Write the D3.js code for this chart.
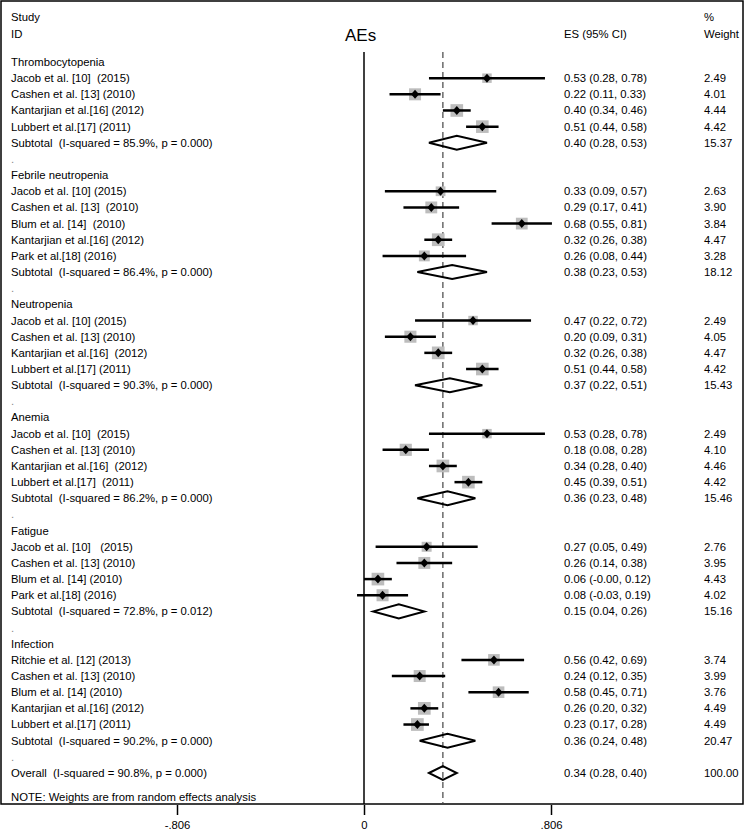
<!DOCTYPE html>
<html><head><meta charset="utf-8">
<script src="https://cdn.jsdelivr.net/npm/d3@7"></script>
<style>body{margin:0;background:#fff}text{font-family:"Liberation Sans",Arial,sans-serif;white-space:pre}</style>
</head><body><svg id="c" width="745" height="831"></svg>
<script>
const groups = ["Thrombocytopenia","Febrile neutropenia","Neutropenia","Anemia","Fatigue","Infection"];
const studies = [
 ["Jacob et al. [10]  (2015)","Cashen et al. [13] (2010)","Kantarjian et al.[16] (2012)","Lubbert et al.[17] (2011)"],
 ["Jacob et al. [10] (2015)","Cashen et al. [13]  (2010)","Blum et al. [14]  (2010)","Kantarjian et al.[16] (2012)","Park et al.[18] (2016)"],
 ["Jacob et al. [10] (2015)","Cashen et al. [13] (2010)","Kantarjian et al.[16]  (2012)","Lubbert et al.[17] (2011)"],
 ["Jacob et al. [10]  (2015)","Cashen et al. [13] (2010)","Kantarjian et al.[16]  (2012)","Lubbert et al.[17]  (2011)"],
 ["Jacob et al. [10]   (2015)","Cashen et al. [13] (2010)","Blum et al. [14] (2010)","Park et al.[18] (2016)"],
 ["Ritchie et al. [12] (2013)","Cashen et al. [13] (2010)","Blum et al. [14] (2010)","Kantarjian et al.[16] (2012)","Lubbert et al.[17] (2011)"]
];
const es = [[0.53,0.22,0.40,0.51],[0.33,0.29,0.68,0.32,0.26],[0.47,0.20,0.32,0.51],[0.53,0.18,0.34,0.45],[0.27,0.26,0.06,0.08],[0.56,0.24,0.58,0.26,0.23]];
const lo = [[0.28,0.11,0.34,0.44],[0.09,0.17,0.55,0.26,0.08],[0.22,0.09,0.26,0.44],[0.28,0.08,0.28,0.39],[0.05,0.14,-0.00,-0.03],[0.42,0.12,0.45,0.20,0.17]];
const hi = [[0.78,0.33,0.46,0.58],[0.57,0.41,0.81,0.38,0.44],[0.72,0.31,0.38,0.58],[0.78,0.28,0.40,0.51],[0.49,0.38,0.12,0.19],[0.69,0.35,0.71,0.32,0.28]];
const weights = [[2.49,4.01,4.44,4.42],[2.63,3.90,3.84,4.47,3.28],[2.49,4.05,4.47,4.42],[2.49,4.10,4.46,4.42],[2.76,3.95,4.43,4.02],[3.74,3.99,3.76,4.49,4.49]];
const subES = [0.40,0.38,0.37,0.36,0.15,0.36];
const subLo = [0.28,0.23,0.22,0.23,0.04,0.24];
const subHi = [0.53,0.53,0.51,0.48,0.26,0.48];
const subW = [15.37,18.12,15.43,15.46,15.16,20.47];
const subI2 = ["85.9","86.4","90.3","86.2","72.8","90.2"];
const subP = ["0.000","0.000","0.000","0.000","0.012","0.000"];
const overall = {es:0.34, lo:0.28, hi:0.40, w:100.00, i2:"90.8", p:"0.000"};
const tickVals = [-0.806, 0, 0.806];
const tickLabels = ["-.806","0",".806"];

const svg = d3.select("#c");
const x = d3.scaleLinear().domain([-0.806,0.806]).range([364-187,364+187]);
const rowY = d3.scaleLinear().domain([0,44]).range([62,773]);
const fmt = v => ((v<0||Object.is(v,-0))?"-":"") + Math.abs(v).toFixed(2);
const ciText = (e,l,h) => `${fmt(e)} (${fmt(l)}, ${fmt(h)})`;
const fs = 11.3;
const plotTop = 52, plotBottom = 804;

const rows = [];
let r = 0;
groups.forEach((g,gi)=>{
  rows.push({type:"head", label:g, r:r++});
  studies[gi].forEach((s,si)=>rows.push({type:"study", label:s, es:es[gi][si], lo:lo[gi][si], hi:hi[gi][si], w:weights[gi][si], r:r++}));
  rows.push({type:"sub", label:`Subtotal  (I-squared = ${subI2[gi]}%, p = ${subP[gi]})`, es:subES[gi], lo:subLo[gi], hi:subHi[gi], w:subW[gi], r:r++});
  rows.push({type:"dot", label:".", r:r++});
});
rows.push({type:"sub", label:`Overall  (I-squared = ${overall.i2}%, p = ${overall.p})`, es:overall.es, lo:overall.lo, hi:overall.hi, w:overall.w, r:r++});

svg.append("rect").attr("x",1).attr("y",1).attr("width",742).attr("height",plotBottom-1).attr("fill","none").attr("stroke","#000").attr("stroke-width",1.5);

const hdr = svg.append("g").attr("font-size",fs);
hdr.append("text").attr("x",11).attr("y",17).attr("dy","0.35em").text("Study");
hdr.append("text").attr("x",11).attr("y",34).attr("dy","0.35em").text("ID");
hdr.append("text").attr("x",564).attr("y",34).attr("dy","0.35em").text("ES (95% CI)");
hdr.append("text").attr("x",704).attr("y",17).attr("dy","0.35em").text("%");
hdr.append("text").attr("x",704).attr("y",34).attr("dy","0.35em").text("Weight");
svg.append("text").attr("x",345).attr("y",35).attr("dy","0.35em").attr("font-size",17).text("AEs");

svg.append("line").attr("x1",x(0)).attr("x2",x(0)).attr("y1",plotTop).attr("y2",plotBottom).attr("stroke","#000").attr("stroke-width",1.5);
svg.append("line").attr("x1",x(overall.es)).attr("x2",x(overall.es)).attr("y1",plotTop).attr("y2",plotBottom).attr("stroke","#444").attr("stroke-width",1.2).attr("stroke-dasharray","6,4");

svg.append("g").attr("font-size",fs).selectAll("text").data(rows).join("text")
  .attr("x",11).attr("y",d=>rowY(d.r)).attr("dy","0.35em")
  .attr("fill",d=>d.type==="dot"?"#888":"#000")
  .text(d=>d.label);

const withStats = rows.filter(d=>d.type==="study"||d.type==="sub");
svg.append("g").attr("font-size",fs).selectAll("text").data(withStats).join("text")
  .attr("x",564).attr("y",d=>rowY(d.r)).attr("dy","0.35em").text(d=>ciText(d.es,d.lo,d.hi));
svg.append("g").attr("font-size",fs).selectAll("text").data(withStats).join("text")
  .attr("x",704).attr("y",d=>rowY(d.r)).attr("dy","0.35em").text(d=>d.w.toFixed(2));

const st = rows.filter(d=>d.type==="study");
const side = w => 6*Math.sqrt(w);
svg.append("g").selectAll("rect").data(st).join("rect")
  .attr("x",d=>x(d.es)-side(d.w)/2).attr("y",d=>rowY(d.r)-side(d.w)/2)
  .attr("width",d=>side(d.w)).attr("height",d=>side(d.w)).attr("fill","#bdbdbd");
svg.append("g").selectAll("line").data(st).join("line")
  .attr("x1",d=>x(d.lo)).attr("x2",d=>x(d.hi)).attr("y1",d=>rowY(d.r)).attr("y2",d=>rowY(d.r))
  .attr("stroke","#000").attr("stroke-width",2.5);
svg.append("g").selectAll("path").data(st).join("path")
  .attr("d",d=>{const cx=x(d.es),cy=rowY(d.r);return `M${cx-4},${cy}L${cx},${cy-4.5}L${cx+4},${cy}L${cx},${cy+4.5}Z`;})
  .attr("fill","#000");

const sb = rows.filter(d=>d.type==="sub");
svg.append("g").selectAll("path").data(sb).join("path")
  .attr("d",d=>{const cy=rowY(d.r);return `M${x(d.lo)},${cy}L${x(d.es)},${cy-7}L${x(d.hi)},${cy}L${x(d.es)},${cy+7}Z`;})
  .attr("fill","none").attr("stroke","#000").attr("stroke-width",2);

svg.append("text").attr("x",11).attr("y",797).attr("dy","0.35em").attr("font-size",fs).text("NOTE: Weights are from random effects analysis");

const axis = d3.axisBottom(x).tickValues(tickVals).tickFormat((d,i)=>tickLabels[i]).tickSize(10).tickPadding(6);
const ag = svg.append("g").attr("transform",`translate(0,${plotBottom+1})`).call(axis);
ag.select(".domain").remove();
ag.selectAll("line").attr("stroke","#000").attr("stroke-width",1.5);
ag.selectAll("text").attr("font-size",fs).attr("font-family","Liberation Sans, Arial, sans-serif").attr("fill","#000");
</script></body></html>
